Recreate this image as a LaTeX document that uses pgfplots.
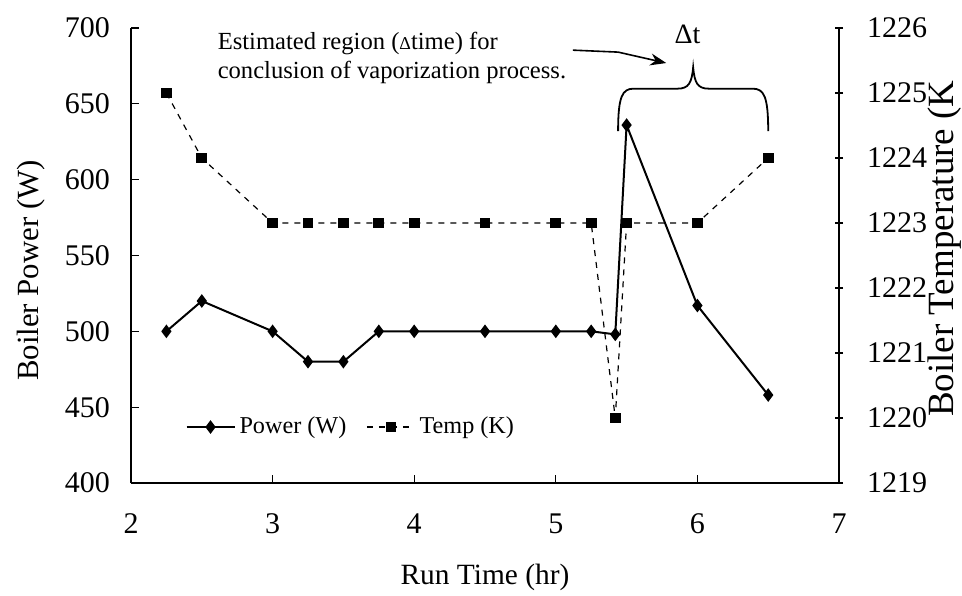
\documentclass[border=0pt]{standalone}
\usepackage{pgfplots}
\pgfplotsset{compat=1.18}
\usepackage{fontspec}
\setmainfont{Liberation Serif}
\usetikzlibrary{arrows.meta}

\begin{document}
\begin{tikzpicture}
\pgfplotsset{
  every axis/.append style={
    scale only axis, width=354pt, height=227.5pt,
    xmin=2, xmax=7,
    /pgf/number format/assume math mode=true,
    /pgf/number format/1000 sep={},
    axis line style={-, line width=0.6pt},
    tick style={black, line width=0.6pt, major tick length=4pt},
    ticklabel style={font=\fontsize{15}{18}\selectfont},
    clip=false,
  },
  legend image code/.code={
    \draw[mark repeat=2, mark phase=2, #1] plot coordinates {(0pt,0pt) (12pt,0pt) (24pt,0pt)};
  },
}
% left axis: power
\begin{axis}[
  axis x line*=bottom, axis y line*=left,
  ymin=400, ymax=700, ytick={400,450,...,700},
  xtick={2,...,7},
  tick align=inside,
  xticklabel style={yshift=-12pt},
  yticklabel style={xshift=-7pt},
  xlabel={Run Time (hr)},
  ylabel={Boiler Power (W)},
  xlabel style={font=\fontsize{14.7}{17}\selectfont, at={([yshift=-47pt]axis description cs:0.5,0)}, anchor=center},
  ylabel style={font=\fontsize{15.4}{18}\selectfont, at={([xshift=-50pt]axis description cs:0,0.467)}, anchor=center},
]
\addplot[black, line width=1pt, mark=diamond*, mark size=2.6pt] coordinates {
  (2.25,500) (2.5,520) (3,500) (3.25,480) (3.5,480) (3.75,500) (4,500)
  (4.5,500) (5,500) (5.25,500) (5.42,498) (5.5,636) (6,517) (6.5,458)
};
% annotation
\node[anchor=west, align=left, inner sep=0pt, font=\fontsize{12.3}{14.5}\selectfont]
  at (axis cs:2.61,680.5) {Estimated region ({\small Δ}time) for\\conclusion of vaporization process.};
\draw[line width=0.8pt, -{Stealth[length=8pt,width=6pt]}]
  (axis cs:5.12,685.4) -- (axis cs:5.44,684.1) -- (axis cs:5.78,676.9);
\node[font=\fontsize{14}{16}\selectfont] at (axis cs:5.93,696) {Δt};
\draw[line width=0.9pt]
  (axis cs:5.44,632) .. controls (axis cs:5.44,655) and (axis cs:5.47,660) .. (axis cs:5.55,660)
  -- (axis cs:5.86,660) .. controls (axis cs:5.94,660) and (axis cs:5.96,664) .. (axis cs:5.97,674)
  .. controls (axis cs:5.98,664) and (axis cs:6.0,660) .. (axis cs:6.08,660)
  -- (axis cs:6.39,660) .. controls (axis cs:6.47,660) and (axis cs:6.5,655) .. (axis cs:6.5,632);
\end{axis}
% right axis: temperature
\begin{axis}[
  axis x line=none, axis y line*=right,
  ymin=1219, ymax=1226, ytick={1219,...,1226},
  tick align=center,
  yticklabel style={xshift=8.5pt},
  ylabel={Boiler Temperature (K},
  ylabel style={font=\fontsize{18.5}{21}\selectfont, at={([xshift=53pt]axis description cs:1,0.515)}, anchor=center},
  legend style={draw=none, fill=none, at={(axis description cs:0.068,0.123)}, anchor=west,
    font=\fontsize{12.1}{14}\selectfont, legend columns=2,
    /tikz/every even column/.append style={column sep=8pt}},
]
\addlegendimage{black, line width=1pt, mark=diamond*, mark size=2.6pt}
\addlegendentry{Power (W)}
\addplot[black, line width=0.6pt, dash pattern=on 3pt off 3pt, mark=square*, mark size=2.4pt, mark options={solid}] coordinates {
  (2.25,1225) (2.5,1224) (3,1223) (3.25,1223) (3.5,1223) (3.75,1223) (4,1223)
  (4.5,1223) (5,1223) (5.25,1223) (5.42,1220) (5.5,1223) (6,1223) (6.5,1224)
};
\addlegendentry{Temp (K)}
\end{axis}
\pgfresetboundingbox
\path[use as bounding box] (-65.5pt,-56pt) rectangle (415.5pt,241.5pt);
\end{tikzpicture}
\end{document}
